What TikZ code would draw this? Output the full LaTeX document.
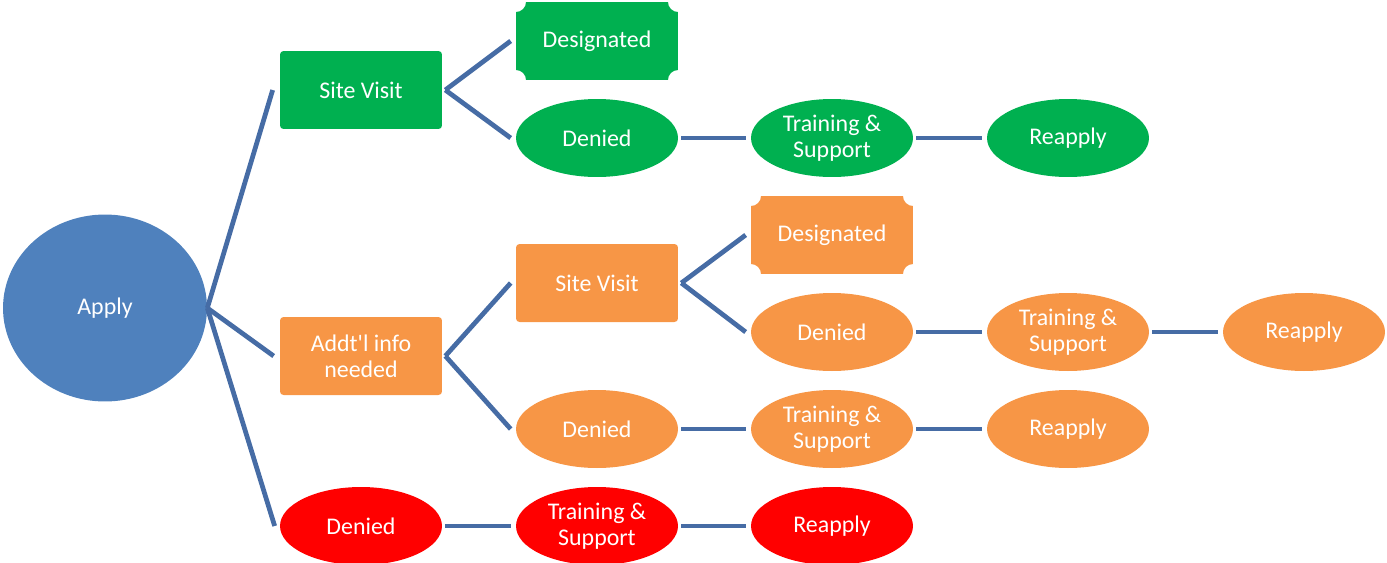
\documentclass[tikz,border=0pt]{standalone}
\usepackage{fontspec}
\setmainfont{Carlito}
\usetikzlibrary{shapes.geometric}

\definecolor{apblue}{RGB}{79,129,189}
\definecolor{apgreen}{RGB}{0,176,80}
\definecolor{aporange}{RGB}{247,150,70}
\definecolor{apred}{RGB}{255,0,0}
\definecolor{linkblue}{RGB}{70,108,165}

\tikzset{
  stage/.style={text=white, align=center, inner sep=0pt,
    font=\fontsize{13.6}{14.7}\selectfont,
    minimum width=3.24cm, minimum height=1.56cm},
  rbox/.style={stage, rectangle, rounded corners=2pt, fill=#1},
  oval/.style={stage, ellipse, fill=#1},
  plaque/.style={stage, rectangle, fill=white,
    path picture={
      \fill[#1] (path picture bounding box.south west) ++(0.2cm,0)
        -- ++(2.84cm,0) arc[start angle=180, end angle=90, radius=0.2cm]
        -- ++(0,1.16cm) arc[start angle=270, end angle=180, radius=0.2cm]
        -- ++(-2.84cm,0) arc[start angle=0, end angle=-90, radius=0.2cm]
        -- ++(0,-1.16cm) arc[start angle=90, end angle=0, radius=0.2cm]
        -- cycle;
    }},
  link/.style={draw=linkblue, line width=2.7pt}
}

\begin{document}
\begin{tikzpicture}[x=0.02cm, y=-0.02cm]
  \useasboundingbox (0,0) rectangle (1387,562);

  \node[stage, ellipse, fill=apblue, minimum width=4.08cm, minimum height=3.74cm]
    (apply) at (105,308) {Apply};

  \node[rbox=apgreen]   (site1)  at (361,90)  {Site Visit};
  \node[plaque=apgreen] (desg1)  at (597,41)  {Designated};
  \node[oval=apgreen]   (den1)   at (597,138) {Denied};
  \node[oval=apgreen]   (train1) at (832,138) {Training \&\\Support};
  \node[oval=apgreen]   (reapp1) at (1068,138) {Reapply};

  \node[rbox=aporange]   (info2)  at (361,356) {Addt\textquotesingle l info\\needed};
  \node[rbox=aporange]   (site2)  at (597,283) {Site Visit};
  \node[plaque=aporange] (desg2)  at (832,235) {Designated};
  \node[oval=aporange]   (den2)   at (832,332) {Denied};
  \node[oval=aporange]   (train2) at (1068,332) {Training \&\\Support};
  \node[oval=aporange]   (reapp2) at (1304,332) {Reapply};
  \node[oval=aporange]   (den3)   at (597,429) {Denied};
  \node[oval=aporange]   (train3) at (832,429) {Training \&\\Support};
  \node[oval=aporange]   (reapp3) at (1068,429) {Reapply};

  \node[oval=apred] (den4)   at (361,526) {Denied};
  \node[oval=apred] (train4) at (597,526) {Training \&\\Support};
  \node[oval=apred] (reapp4) at (832,526) {Reapply};

  \begin{scope}[link]
    \draw (apply.east) -- ([xshift=-0.14cm]site1.west);
    \draw (apply.east) -- ([xshift=-0.12cm]info2.west);
    \draw (apply.east) -- ([xshift=-0.1cm]den4.west);

    \draw ([xshift=0.06cm]site1.east) -- ([xshift=-0.1cm]desg1.west);
    \draw ([xshift=0.06cm]site1.east) -- ([xshift=-0.1cm]den1.west);
    \draw ([xshift=0.06cm]info2.east) -- ([xshift=-0.1cm]site2.west);
    \draw ([xshift=0.06cm]info2.east) -- ([xshift=-0.1cm]den3.west);
    \draw ([xshift=0.06cm]site2.east) -- ([xshift=-0.1cm]desg2.west);
    \draw ([xshift=0.06cm]site2.east) -- ([xshift=-0.1cm]den2.west);
  \end{scope}
  \begin{scope}[link, shorten <=0.06cm, shorten >=0.1cm]
    \draw (den1) -- (train1);
    \draw (train1) -- (reapp1);
    \draw (den2) -- (train2);
    \draw (train2) -- (reapp2);
    \draw (den3) -- (train3);
    \draw (train3) -- (reapp3);
    \draw (den4) -- (train4);
    \draw (train4) -- (reapp4);
  \end{scope}
\end{tikzpicture}
\end{document}
